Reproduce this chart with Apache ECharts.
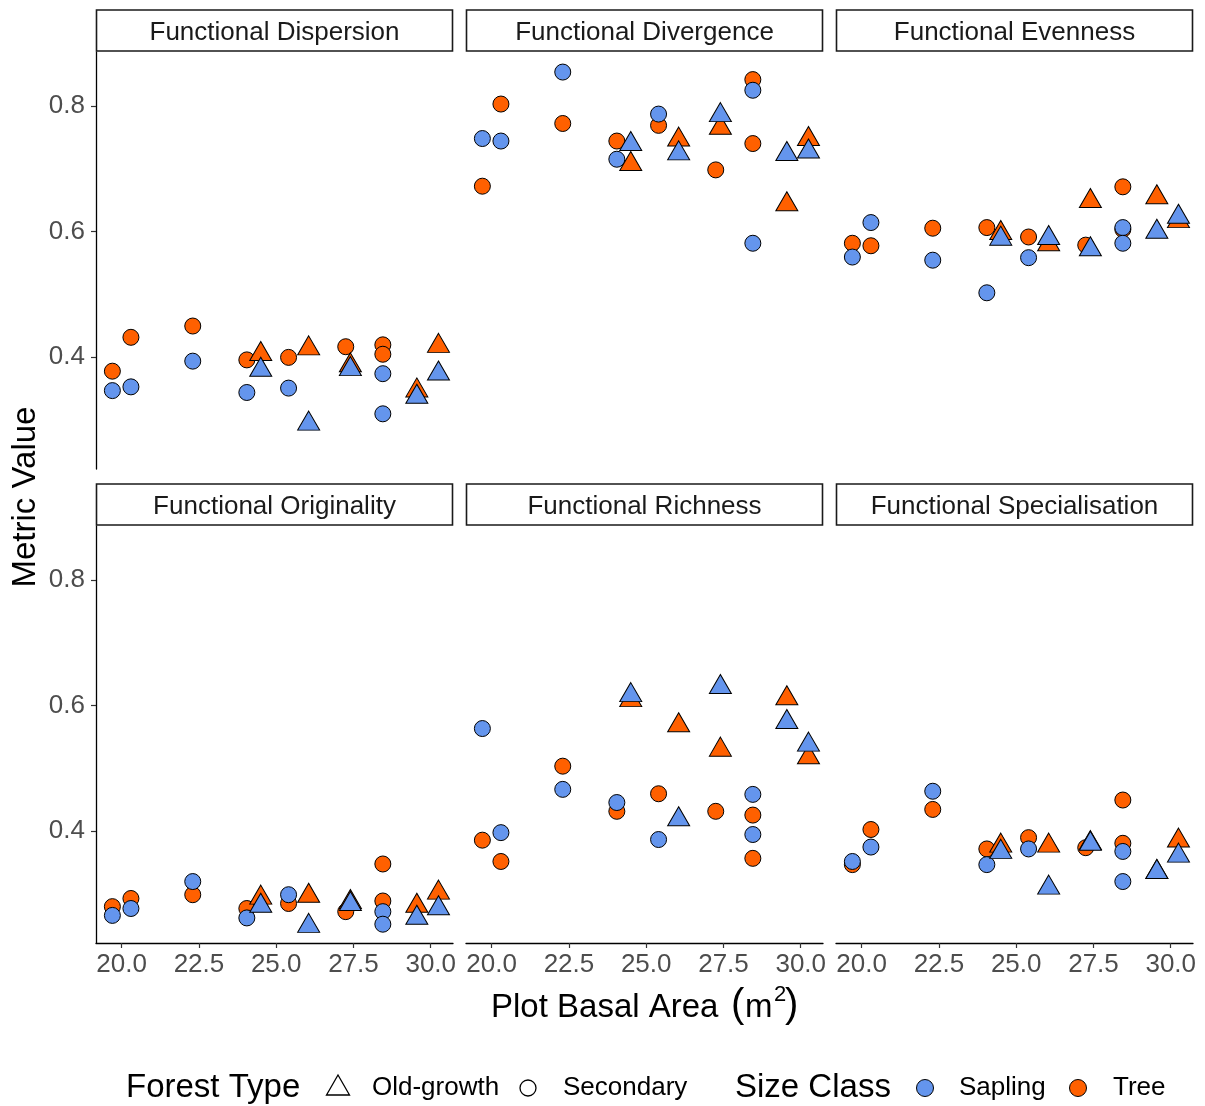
<!DOCTYPE html>
<html>
<head>
<meta charset="utf-8">
<script src="https://cdn.jsdelivr.net/npm/echarts@6/dist/echarts.min.js"></script>
<style>
html,body{margin:0;padding:0;background:#fff;}
#chart{width:1205px;height:1106px;}
</style>
</head>
<body>
<div id="chart"></div>
<script>
// ---- Data ----
const panelTitles = ['Functional Dispersion', 'Functional Divergence', 'Functional Evenness',
                     'Functional Originality', 'Functional Richness', 'Functional Specialisation'];
const secondaryBasalArea = [19.7, 20.3, 22.3, 24.05, 25.4, 27.25, 28.45, 28.45];
const oldGrowthBasalArea = [24.5, 26.05, 27.4, 29.55, 30.25];
const xTickValues = [20, 22.5, 25, 27.5, 30];
const yTickValues = [0.4, 0.6, 0.8];

// Tree, Secondary (one row per panel, columns follow secondaryBasalArea)
const treeSecondary = [
  [0.377, 0.431, 0.449, 0.395, 0.399, 0.416, 0.419, 0.404],
  [0.672, 0.803, 0.772, 0.744, 0.769, 0.698, 0.842, 0.740],
  [0.581, 0.577, 0.605, 0.606, 0.591, 0.578, 0.671, 0.603],
  [0.279, 0.292, 0.298, 0.276, 0.284, 0.271, 0.347, 0.288],
  [0.385, 0.351, 0.503, 0.431, 0.459, 0.431, 0.425, 0.356],
  [0.346, 0.402, 0.434, 0.371, 0.389, 0.373, 0.449, 0.380]
];
// Sapling, Secondary
const saplingSecondary = [
  [0.346, 0.352, 0.393, 0.343, 0.350, null, 0.373, 0.309],
  [0.748, 0.744, 0.854, 0.715, 0.787, null, 0.825, 0.581],
  [0.559, 0.614, 0.554, 0.502, 0.558, null, 0.606, 0.581],
  [0.265, 0.276, 0.319, 0.261, 0.298, null, 0.271, 0.251],
  [0.563, 0.397, 0.466, 0.445, 0.386, null, 0.458, 0.394],
  [0.351, 0.374, 0.463, 0.346, 0.371, null, 0.367, 0.319]
];
// Tree, Old-growth (columns follow oldGrowthBasalArea)
const treeOldGrowth = [
  [0.404, 0.413, 0.386, 0.346, 0.417],
  [0.707, 0.746, 0.765, 0.643, 0.747],
  [0.597, 0.579, 0.648, 0.654, 0.616],
  [0.293, 0.296, 0.286, 0.280, 0.301],
  [0.608, 0.568, 0.529, 0.611, 0.517],
  [0.376, 0.376, 0.380, 0.334, 0.384]
];
// Sapling, Old-growth
const saplingOldGrowth = [
  [0.379, 0.293, 0.380, 0.336, 0.373],
  [0.739, 0.724, 0.785, 0.723, 0.727],
  [0.588, 0.589, 0.571, 0.599, 0.623],
  [0.280, 0.248, 0.283, 0.261, 0.276],
  [0.616, 0.418, 0.629, 0.573, 0.537],
  [0.366, 0.309, 0.379, 0.334, 0.360]
];

// ---- Styling ----
const FONT = '"Liberation Sans", Arial, Helvetica, sans-serif';
const SAPLING = '#6495ED';
const TREE = '#FF6000';
const colLeft = [96, 466, 836];
const rowTop = [52, 526];
const panelW = 357, panelH = 417;
const stripH = 41;

const grids = [], xAxes = [], yAxes = [], series = [], graphics = [];

function pts(xs, vs) {
  return xs.map((x, j) => [x, vs[j]]).filter(d => d[1] != null);
}

panelTitles.forEach((title, i) => {
  const r = Math.floor(i / 3), c = i % 3;
  const left = colLeft[c], top = rowTop[r];
  grids.push({left: left, top: top, width: panelW, height: panelH, containLabel: false});
  const showX = r === 1, showY = c === 0;
  xAxes.push({
    type: 'value', gridIndex: i, min: 19.17, max: 30.72,
    splitLine: {show: false},
    axisLine: {show: showX, onZero: false, lineStyle: {color: '#000', width: 1.3}},
    axisTick: {show: showX, customValues: xTickValues, length: 5, lineStyle: {color: '#333', width: 1.2}},
    axisLabel: {show: showX, customValues: xTickValues, formatter: v => v.toFixed(1),
      fontSize: 26, color: '#4d4d4d', fontFamily: FONT, margin: 9}
  });
  yAxes.push({
    type: 'value', gridIndex: i, min: 0.221, max: 0.886,
    splitLine: {show: false},
    axisLine: {show: showY, onZero: false, lineStyle: {color: '#000', width: 1.3}},
    axisTick: {show: showY, customValues: yTickValues, length: 5, lineStyle: {color: '#333', width: 1.2}},
    axisLabel: {show: showY, customValues: yTickValues, formatter: v => v.toFixed(1),
      fontSize: 26, color: '#4d4d4d', fontFamily: FONT, margin: 11}
  });
  const circ = {symbol: 'circle', symbolSize: 16};
  const tri = {symbol: 'triangle', symbolSize: [22, 19], symbolOffset: [0, -3.2]};
  const mk = (name, data, shape, color) => Object.assign({
    type: 'scatter', name: name, xAxisIndex: i, yAxisIndex: i, data: data,
    itemStyle: {color: color, borderColor: '#000', borderWidth: 1, opacity: 1},
    emphasis: {disabled: true}, silent: true
  }, shape);
  series.push(mk('Tree Secondary', pts(secondaryBasalArea, treeSecondary[i]), circ, TREE));
  series.push(mk('Sapling Secondary', pts(secondaryBasalArea, saplingSecondary[i]), circ, SAPLING));
  series.push(mk('Tree Old-growth', pts(oldGrowthBasalArea, treeOldGrowth[i]), tri, TREE));
  series.push(mk('Sapling Old-growth', pts(oldGrowthBasalArea, saplingOldGrowth[i]), tri, SAPLING));

  // facet strip
  const sy = top - stripH - 1;
  graphics.push({type: 'rect', shape: {x: left + 0.5, y: sy, width: panelW - 1, height: stripH},
    style: {fill: '#fff', stroke: '#1a1a1a', lineWidth: 1.6}, z: 10});
  graphics.push({type: 'text', x: left + panelW / 2, y: sy + stripH / 2 + 2, z: 11,
    style: {text: title, align: 'center', verticalAlign: 'middle', textAlign: 'center', textVerticalAlign: 'middle',
      fontSize: 26, fontFamily: FONT, fill: '#1a1a1a'}});
});

function gtext(t, x, y, size, align, extra) {
  graphics.push(Object.assign({type: 'text', x: x, y: y, z: 11,
    style: {text: t, align: align, verticalAlign: 'middle', textAlign: align, textVerticalAlign: 'middle',
      fontSize: size, fontFamily: FONT, fill: '#000'}}, extra || {}));
}

// axis titles
gtext('Metric Value', 26, 497, 33, 'center', {rotation: Math.PI / 2});
gtext('Plot Basal Area', 491, 1008, 33, 'left');
gtext('(', 731, 1006, 40, 'left');
gtext('m', 745, 1008, 33, 'left');
gtext('2', 774, 995, 22, 'left');
gtext(')', 785, 1006, 40, 'left');

// legend
const LY = 1088;
gtext('Forest Type', 126, LY, 33, 'left');
graphics.push({type: 'polygon', z: 11, shape: {points: [[338, LY - 13], [349.5, LY + 7], [326.5, LY + 7]]},
  style: {fill: 'none', stroke: '#000', lineWidth: 1.3}});
gtext('Old-growth', 372, LY, 26, 'left');
graphics.push({type: 'circle', z: 11, shape: {cx: 528, cy: LY, r: 8}, style: {fill: 'none', stroke: '#000', lineWidth: 1.3}});
gtext('Secondary', 563, LY, 26, 'left');
gtext('Size Class', 735, LY, 33, 'left');
graphics.push({type: 'circle', z: 11, shape: {cx: 925, cy: LY, r: 8.5}, style: {fill: SAPLING, stroke: '#000', lineWidth: 1}});
gtext('Sapling', 959, LY, 26, 'left');
graphics.push({type: 'circle', z: 11, shape: {cx: 1078, cy: LY, r: 8.5}, style: {fill: TREE, stroke: '#000', lineWidth: 1}});
gtext('Tree', 1113, LY, 26, 'left');

const chart = echarts.init(document.getElementById('chart'), null, {renderer: 'canvas'});
chart.setOption({
  animation: false,
  backgroundColor: '#fff',
  grid: grids, xAxis: xAxes, yAxis: yAxes, series: series,
  graphic: graphics
});
</script>
</body>
</html>
